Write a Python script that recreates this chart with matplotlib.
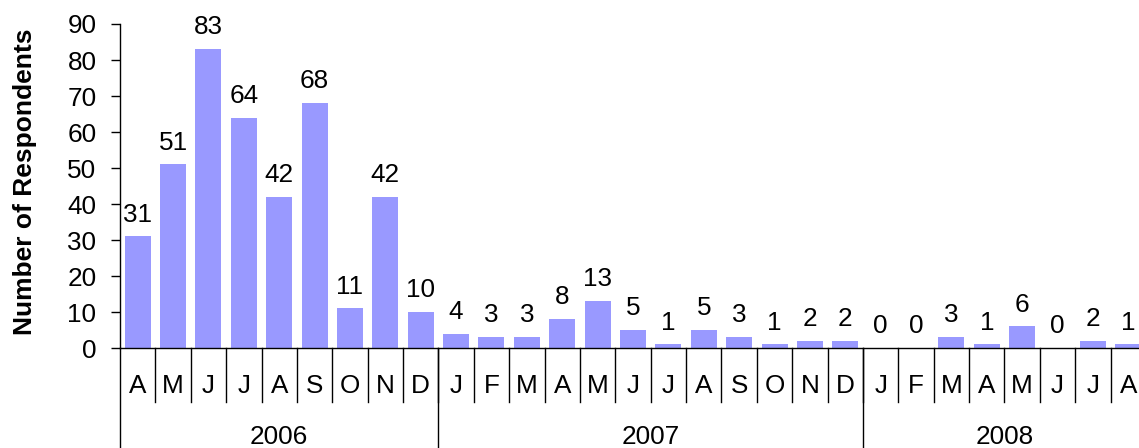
import matplotlib
matplotlib.use('Agg')
import matplotlib.pyplot as plt
import matplotlib.transforms as mtransforms
import numpy as np

plt.rcParams['font.family'] = ['Liberation Sans', 'DejaVu Sans']

MONTHS = ['A', 'M', 'J', 'J', 'A', 'S', 'O', 'N', 'D',
          'J', 'F', 'M', 'A', 'M', 'J', 'J', 'A', 'S', 'O', 'N', 'D',
          'J', 'F', 'M', 'A', 'M', 'J', 'J', 'A']
COUNTS = [31, 51, 83, 64, 42, 68, 11, 42, 10,
          4, 3, 3, 8, 13, 5, 1, 5, 3, 1, 2, 2,
          0, 0, 3, 1, 6, 0, 2, 1]
YEARS = ['2006', '2007', '2008']
YEAR_MONTHS = [9, 12, 8]

BAR_COLOR = '#9999FF'
FS = 18.8

fig = plt.figure(figsize=(11.39, 4.48), dpi=100)
# axes placed in pixel terms: left 120, zero line at 348, top (90) at 24;
# the category axis runs a little past the right edge of the image
ax = fig.add_axes([120 / 1139, (448 - 348) / 448, 1026 / 1139, 324 / 448])

x = np.arange(len(COUNTS))
ax.bar(x, COUNTS, width=0.735, color=BAR_COLOR, edgecolor='none', zorder=2)

for xi, v in zip(x, COUNTS):
    ax.annotate(str(v), (xi, v), xytext=(0, 7.0), textcoords='offset points',
                ha='center', va='bottom', fontsize=FS, color='black')

ax.set_xlim(-0.5, len(COUNTS) - 0.5)
ax.set_ylim(0, 90)
ax.set_yticks(range(0, 91, 10))
ax.tick_params(axis='y', direction='out', length=6.5, width=1, pad=10.5,
               labelsize=FS, colors='black')
ax.set_xticks([])

for s in ['top', 'right']:
    ax.spines[s].set_visible(False)
ax.spines['left'].set_linewidth(1)
ax.spines['bottom'].set_linewidth(1)

ax.set_ylabel('Number of Respondents', fontsize=19, fontweight='bold')
ax.yaxis.set_label_coords(-0.081, 0.514)

# multi-level category axis below the bars
trans = mtransforms.blended_transform_factory(ax.transData, ax.transAxes)
px = 1 / 324  # one pixel in axes fraction (vertical)
month_sep_bottom = -54 * px
year_sep_bottom = -102 * px
month_label_y = -38 * px
year_label_y = -89 * px

for k in range(len(MONTHS) - 1):
    ax.plot([k + 0.5, k + 0.5], [0, month_sep_bottom], transform=trans,
            color='black', lw=1, clip_on=False)
for k, m in enumerate(MONTHS):
    ax.text(k, month_label_y, m, transform=trans, ha='center', va='center',
            fontsize=FS, color='black')

edges = [-0.5]
for n in YEAR_MONTHS:
    edges.append(edges[-1] + n)
for e in edges:
    ax.plot([e, e], [0, year_sep_bottom], transform=trans,
            color='black', lw=1, clip_on=False)
for yr, a, b in zip(YEARS, edges[:-1], edges[1:]):
    ax.text((a + b) / 2, year_label_y, yr, transform=trans, ha='center',
            va='center', fontsize=FS, color='black')

fig.savefig('out.png', dpi=100)
